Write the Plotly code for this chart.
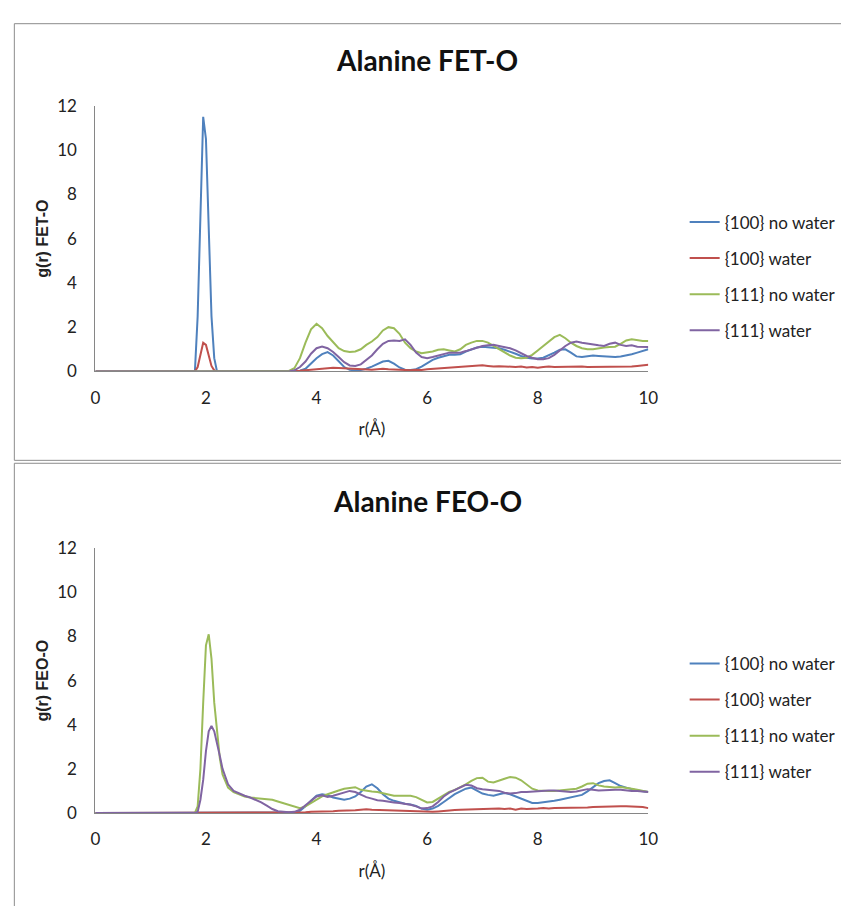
import plotly.graph_objects as go

# ---------------- data ----------------
series_names = ["{100} no water", "{100} water", "{111} no water", "{111} water"]
series_colors = ["#4F81BD", "#C0504D", "#9BBB59", "#8064A2"]

x_ticks = [0, 2, 4, 6, 8, 10]
y_ticks = [0, 2, 4, 6, 8, 10, 12]

# ---- Alanine FET-O (top) ----
r_top = [0, 1.8, 1.85, 1.9, 1.95, 2.0, 2.05, 2.1, 2.15, 2.2, 3.4,
         3.5, 3.6, 3.7, 3.8, 3.9, 4.0, 4.1, 4.2, 4.3, 4.4,
         4.5, 4.6, 4.7, 4.8, 4.9, 5.0, 5.1, 5.2, 5.3, 5.4,
         5.5, 5.6, 5.7, 5.8, 5.9, 6.0, 6.1, 6.2, 6.3, 6.4,
         6.5, 6.6, 6.7, 6.8, 6.9, 7.0, 7.1, 7.2, 7.3, 7.4,
         7.5, 7.6, 7.7, 7.8, 7.9, 8.0, 8.1, 8.2, 8.3, 8.4,
         8.5, 8.6, 8.7, 8.8, 8.9, 9.0, 9.1, 9.2, 9.3, 9.4,
         9.5, 9.6, 9.7, 9.8, 9.9, 10.0]

fet_100_nowater = [0, 0, 2.5, 6.5, 11.5, 10.5, 6.0, 2.5, 0.6, 0, 0,
                   0, 0, 0.03, 0.12, 0.35, 0.6, 0.78, 0.87, 0.72, 0.45,
                   0.2, 0.07, 0.04, 0.06, 0.12, 0.22, 0.33, 0.45, 0.48, 0.35,
                   0.18, 0.08, 0.07, 0.1, 0.22, 0.38, 0.52, 0.62, 0.7, 0.75,
                   0.75, 0.78, 0.9, 1.0, 1.08, 1.12, 1.1, 1.1, 1.05, 0.98,
                   0.9, 0.8, 0.7, 0.62, 0.58, 0.58, 0.62, 0.72, 0.85, 0.98,
                   1.0, 0.85, 0.68, 0.65, 0.7, 0.72, 0.7, 0.68, 0.66, 0.65,
                   0.68, 0.72, 0.78, 0.85, 0.92, 1.0]

fet_100_water = [0, 0, 0.2, 0.8, 1.3, 1.2, 0.7, 0.25, 0.05, 0, 0,
                 0, 0.01, 0.03, 0.05, 0.08, 0.1, 0.12, 0.15, 0.17, 0.16,
                 0.15, 0.13, 0.1, 0.12, 0.1, 0.08, 0.1, 0.12, 0.1, 0.08,
                 0.07, 0.06, 0.05, 0.08, 0.07, 0.1, 0.12, 0.15, 0.17, 0.18,
                 0.2, 0.22, 0.22, 0.25, 0.27, 0.28, 0.25, 0.22, 0.24, 0.22,
                 0.23, 0.2, 0.22, 0.18, 0.2, 0.17, 0.2, 0.22, 0.2, 0.21,
                 0.22, 0.2, 0.22, 0.22, 0.2, 0.2, 0.19, 0.2, 0.2, 0.19,
                 0.2, 0.2, 0.22, 0.25, 0.28, 0.3]

fet_111_nowater = [0, 0, 0, 0, 0, 0, 0, 0, 0, 0, 0,
                   0.02, 0.15, 0.6, 1.3, 1.9, 2.15, 1.95, 1.6, 1.3, 1.05,
                   0.92, 0.88, 0.9, 1.0, 1.2, 1.35, 1.55, 1.85, 2.0, 1.95,
                   1.7, 1.3, 1.05, 0.9, 0.82, 0.85, 0.9, 0.98, 1.0, 0.95,
                   0.9, 1.0, 1.2, 1.3, 1.38, 1.38, 1.3, 1.15, 1.0, 0.85,
                   0.72, 0.62, 0.6, 0.62, 0.75, 0.95, 1.15, 1.35, 1.55, 1.65,
                   1.5, 1.3, 1.15, 1.05, 1.0, 1.0, 1.05, 1.08, 1.1, 1.12,
                   1.25, 1.4, 1.45, 1.4, 1.38, 1.37]

fet_111_water = [0, 0, 0, 0, 0, 0, 0, 0, 0, 0, 0,
                 0.0, 0.05, 0.2, 0.45, 0.8, 1.05, 1.13, 1.05, 0.88, 0.65,
                 0.42, 0.27, 0.25, 0.32, 0.5, 0.72, 1.0, 1.25, 1.38, 1.4,
                 1.38, 1.45, 1.2, 0.85, 0.65, 0.6, 0.65, 0.72, 0.8, 0.85,
                 0.85, 0.85, 0.92, 1.0, 1.1, 1.15, 1.18, 1.2, 1.15, 1.1,
                 1.05, 0.95, 0.82, 0.7, 0.62, 0.55, 0.55, 0.6, 0.75, 0.95,
                 1.15, 1.3, 1.35, 1.3, 1.25, 1.2, 1.18, 1.15, 1.25, 1.3,
                 1.2, 1.15, 1.18, 1.12, 1.1, 1.1]

# ---- Alanine FEO-O (bottom) ----
r_bot = [0, 1.8, 1.85, 1.9, 1.95, 2.0, 2.05, 2.1, 2.15, 2.2, 2.25, 2.3, 2.35, 2.4,
         2.5, 2.6, 2.7, 2.8, 2.9, 3.0, 3.1, 3.2, 3.3, 3.4,
         3.5, 3.6, 3.7, 3.8, 3.9, 4.0, 4.1, 4.2, 4.3, 4.4,
         4.5, 4.6, 4.7, 4.8, 4.9, 5.0, 5.1, 5.2, 5.3, 5.4,
         5.5, 5.6, 5.7, 5.8, 5.9, 6.0, 6.1, 6.2, 6.3, 6.4,
         6.5, 6.6, 6.7, 6.8, 6.9, 7.0, 7.1, 7.2, 7.3, 7.4,
         7.5, 7.6, 7.7, 7.8, 7.9, 8.0, 8.1, 8.2, 8.3, 8.4,
         8.5, 8.6, 8.7, 8.8, 8.9, 9.0, 9.1, 9.2, 9.3, 9.4,
         9.5, 9.6, 9.7, 9.8, 9.9, 10.0]

feo_100_nowater = [0, 0, 0, 0, 0, 0, 0, 0, 0, 0, 0, 0, 0, 0,
                   0, 0, 0, 0, 0, 0, 0, 0, 0, 0,
                   0, 0.02, 0.1, 0.3, 0.55, 0.78, 0.85, 0.8, 0.7, 0.65,
                   0.6, 0.65, 0.75, 0.95, 1.2, 1.3, 1.12, 0.85, 0.65, 0.55,
                   0.47, 0.42, 0.38, 0.32, 0.2, 0.15, 0.2, 0.32, 0.5, 0.68,
                   0.85, 0.98, 1.1, 1.15, 1.0, 0.88, 0.82, 0.78, 0.85, 0.9,
                   0.85, 0.75, 0.62, 0.52, 0.45, 0.45, 0.48, 0.5, 0.55, 0.6,
                   0.65, 0.7, 0.75, 0.82, 0.98, 1.15, 1.35, 1.45, 1.48, 1.35,
                   1.22, 1.15, 1.08, 1.02, 0.98, 0.95]

feo_100_water = [0, 0, 0, 0, 0, 0, 0, 0, 0, 0, 0, 0, 0, 0,
                 0, 0, 0, 0, 0, 0, 0, 0, 0, 0,
                 0, 0, 0.02, 0.03, 0.05, 0.05, 0.07, 0.08, 0.08, 0.1,
                 0.1, 0.1, 0.12, 0.15, 0.17, 0.15, 0.14, 0.15, 0.12, 0.1,
                 0.1, 0.08, 0.07, 0.06, 0.06, 0.05, 0.05, 0.07, 0.1, 0.12,
                 0.13, 0.15, 0.16, 0.17, 0.18, 0.2, 0.18, 0.2, 0.2, 0.18,
                 0.2, 0.15, 0.2, 0.18, 0.18, 0.2, 0.22, 0.2, 0.22, 0.22,
                 0.23, 0.22, 0.23, 0.25, 0.25, 0.27, 0.28, 0.3, 0.3, 0.3,
                 0.3, 0.3, 0.3, 0.28, 0.27, 0.22]

feo_111_nowater = [0, 0, 0.3, 2.0, 5.0, 7.6, 8.1, 7.0, 5.0, 3.6, 2.5, 1.75, 1.4, 1.15,
                   0.95, 0.85, 0.75, 0.7, 0.68, 0.65, 0.62, 0.6, 0.52, 0.45,
                   0.35, 0.28, 0.22, 0.3, 0.45, 0.62, 0.75, 0.85, 0.95, 1.02,
                   1.1, 1.15, 1.17, 1.05, 1.0, 0.97, 0.95, 0.9, 0.82, 0.78,
                   0.78, 0.77, 0.78, 0.72, 0.6, 0.48, 0.5, 0.65, 0.8, 0.95,
                   1.05, 1.17, 1.3, 1.45, 1.58, 1.6, 1.42, 1.38, 1.45, 1.55,
                   1.63, 1.6, 1.48, 1.3, 1.1, 1.02, 1.0, 1.0, 1.0, 1.02,
                   1.05, 1.08, 1.1, 1.2, 1.33, 1.35, 1.25, 1.2, 1.17, 1.15,
                   1.18, 1.15, 1.1, 1.05, 1.0, 0.95]

feo_111_water = [0, 0, 0.05, 0.6, 1.5, 2.8, 3.7, 3.95, 3.7, 3.2, 2.6, 2.0, 1.6, 1.3,
                 1.0, 0.88, 0.78, 0.7, 0.6, 0.48, 0.33, 0.18, 0.08, 0.04,
                 0.03, 0.05, 0.15, 0.35, 0.55, 0.75, 0.8, 0.73, 0.78, 0.85,
                 0.95, 1.0, 0.95, 0.82, 0.72, 0.65, 0.58, 0.55, 0.5, 0.47,
                 0.45, 0.42, 0.37, 0.3, 0.2, 0.22, 0.3, 0.5, 0.75, 0.92,
                 1.05, 1.17, 1.28, 1.25, 1.12, 1.08, 1.05, 1.05, 1.0, 0.92,
                 0.88, 0.9, 0.95, 0.95, 0.97, 1.0, 1.0, 1.02, 1.02, 1.0,
                 0.98, 0.95, 0.97, 1.02, 1.08, 1.05, 1.02, 1.03, 1.05, 1.05,
                 1.05, 1.02, 1.0, 1.0, 0.97, 0.95]

top_series = [fet_100_nowater, fet_100_water, fet_111_nowater, fet_111_water]
bot_series = [feo_100_nowater, feo_100_water, feo_111_nowater, feo_111_water]

# ---------------- figure ----------------
W, H = 841, 906
fig = go.Figure()

for i, (name, ys) in enumerate(zip(series_names, top_series)):
    fig.add_trace(go.Scatter(x=r_top, y=ys, mode="lines", name=name,
                             line=dict(color=series_colors[i], width=2),
                             xaxis="x", yaxis="y", legend="legend",
                             legendgroup="t%d" % i))
for i, (name, ys) in enumerate(zip(series_names, bot_series)):
    fig.add_trace(go.Scatter(x=r_bot, y=ys, mode="lines", name=name,
                             line=dict(color=series_colors[i], width=2),
                             xaxis="x2", yaxis="y2", legend="legend2",
                             legendgroup="b%d" % i))

def px_x(p):
    return p / W

def px_y(p):
    return 1 - p / H

tick_font = dict(family="Lato", size=17, color="#222222")
xdom = [px_x(92), px_x(655)]

axis_common = dict(showgrid=False, zeroline=False, showline=True,
                   linecolor="#868686", linewidth=1, ticks="outside",
                   tickcolor="rgba(0,0,0,0)", tickfont=tick_font)

xtitle_font = dict(family="Lato", size=17, color="#222222")
ytitle_font = dict(family="Liberation Sans", size=16, color="#222222")
legend_font = dict(family="Lato", size=17, color="#222222")

fig.update_layout(
    width=W, height=H, margin=dict(l=0, r=0, t=0, b=0),
    paper_bgcolor="white", plot_bgcolor="white",
    xaxis=dict(domain=xdom, range=[0, 10], tickvals=x_ticks, anchor="y",
               ticklen=11, **axis_common,
               title=dict(text="r(Å)", font=xtitle_font, standoff=16)),
    yaxis=dict(domain=[px_y(369), px_y(97)], range=[0, 12], tickvals=y_ticks,
               anchor="x", ticklen=14, **axis_common,
               title=dict(text="<b>g(r) FET-O</b>", font=ytitle_font, standoff=4)),
    xaxis2=dict(domain=xdom, range=[0, 10], tickvals=x_ticks, anchor="y2",
                ticklen=11, **axis_common,
                title=dict(text="r(Å)", font=xtitle_font, standoff=16)),
    yaxis2=dict(domain=[px_y(821), px_y(550)], range=[0, 12], tickvals=y_ticks,
                anchor="x2", ticklen=14, **axis_common,
                title=dict(text="<b>g(r) FEO-O</b>", font=ytitle_font, standoff=4)),
    legend=dict(x=px_x(692), y=px_y(198), xanchor="left", yanchor="top",
                font=legend_font, tracegroupgap=11, itemwidth=30,
                bgcolor="rgba(0,0,0,0)"),
    legend2=dict(x=px_x(692), y=px_y(650), xanchor="left", yanchor="top",
                 font=legend_font, tracegroupgap=11, itemwidth=30,
                 bgcolor="rgba(0,0,0,0)"),
    annotations=[
        dict(text="<b>Alanine FET-O</b>", x=px_x(430), y=px_y(50), xref="paper", yref="paper",
             showarrow=False, font=dict(family="Lato", size=28, color="#111111"),
             xanchor="center", yanchor="middle"),
        dict(text="<b>Alanine FEO-O</b>", x=px_x(430), y=px_y(502), xref="paper", yref="paper",
             showarrow=False, font=dict(family="Lato", size=28, color="#111111"),
             xanchor="center", yanchor="middle"),
    ],
    shapes=[
        dict(type="rect", xref="paper", yref="paper",
             x0=px_x(9.5), x1=1.02, y0=px_y(460), y1=px_y(13),
             line=dict(color="#8c8c8c", width=1)),
        dict(type="rect", xref="paper", yref="paper",
             x0=px_x(9.5), x1=1.02, y0=-0.02, y1=px_y(463),
             line=dict(color="#8c8c8c", width=1)),
    ],
)

fig.write_html("out.html")
